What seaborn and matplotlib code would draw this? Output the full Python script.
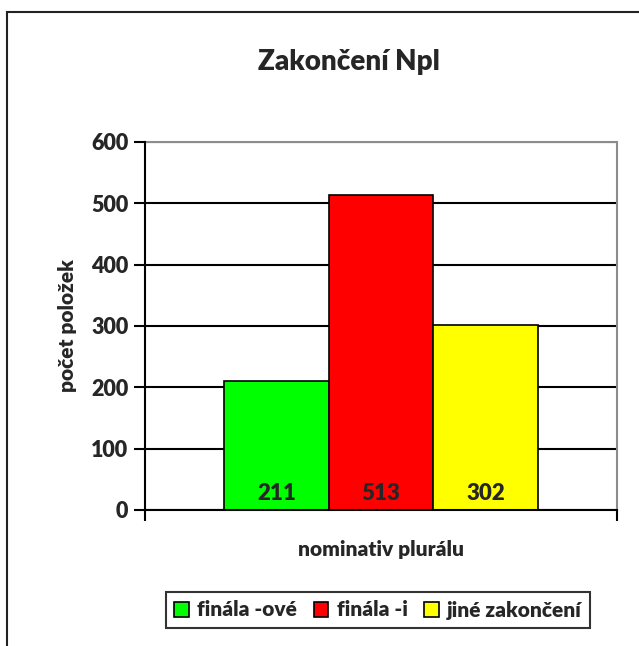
import matplotlib
matplotlib.use("Agg")
import matplotlib.pyplot as plt
from matplotlib.patches import Rectangle
import seaborn as sns
import pandas as pd

# data
categories = ["nominativ plurálu"]
series = ["finála -ové", "finála -i", "jiné zakončení"]
values = [211, 513, 302]
colors = ["#00FF00", "#FF0000", "#FFFF00"]
yticks = [0, 100, 200, 300, 400, 500, 600]

sns.set_theme(style="white")
plt.rcParams["font.family"] = ["Lato", "DejaVu Sans"]
BW = "heavy"
plt.rcParams["font.weight"] = BW

df = pd.DataFrame({"kat": categories * len(series), "serie": series, "pocet": values})

W, H = 639, 646
fig = plt.figure(figsize=(W / 100, H / 100), dpi=100)
fig.patch.set_facecolor("white")
ax = fig.add_axes([145 / W, 1 - 510 / H, (617 - 145) / W, (510 - 142) / H])

sns.barplot(data=df, x="kat", y="pocet", hue="serie", hue_order=series,
            palette=colors, width=0.665, edgecolor="black", linewidth=1.2,
            saturation=1, ax=ax, legend=False, zorder=3)

ax.set_xlim(-0.5, 0.5)
ax.set_ylim(0, 600)
ax.set_yticks(yticks)
ax.set_yticklabels([str(t) for t in yticks], fontsize=15.5, fontweight=BW)
ax.set_xticks([-0.5, 0.5])
ax.set_xticklabels(["", ""])
ax.tick_params(axis="both", direction="out", length=8, width=1.5, color="black",
               bottom=True, left=True)
ax.tick_params(axis="y", pad=4)
ax.yaxis.grid(True, color="black", linewidth=1.5, zorder=0)
ax.set_axisbelow(True)
for side in ["left", "bottom"]:
    ax.spines[side].set_color("black")
    ax.spines[side].set_linewidth(1.5)
    ax.spines[side].set_zorder(5)
for side in ["top", "right"]:
    ax.spines[side].set_color("#8c8c8c")
    ax.spines[side].set_linewidth(1.5)

ax.set_ylabel("počet položek", fontsize=15, fontweight=BW, labelpad=10)
ax.set_xlabel("nominativ plurálu", fontsize=15, fontweight=BW, labelpad=10)

for cont, v in zip(ax.containers, values):
    bar = cont.patches[0]
    ax.text(bar.get_x() + bar.get_width() / 2, 27, str(v), ha="center", va="center",
            fontsize=16, fontweight=BW, zorder=6)

fig.suptitle("Zakončení Npl", x=349 / W, y=1 - 62 / H, va="center",
             fontsize=20, fontweight=BW)

leg = fig.legend(handles=ax.containers, labels=series, loc="center",
                 bbox_to_anchor=(378 / W, 1 - 610 / H), ncol=3, frameon=True,
                 fontsize=15, handlelength=0.7, handleheight=0.7,
                 handletextpad=0.4, columnspacing=0.8, borderpad=0.4,
                 fancybox=False, edgecolor="black")
leg.get_frame().set_linewidth(1.5)
for txt in leg.get_texts():
    txt.set_fontweight(BW)

# outer chart border (top and left visible)
fig.patches.append(Rectangle((7 / W, -0.2), 2.0, 1.2 - 12 / H, transform=fig.transFigure,
                             fill=False, edgecolor="#222222", linewidth=1.5,
                             clip_on=False))

fig.savefig("out.png", dpi=100)
